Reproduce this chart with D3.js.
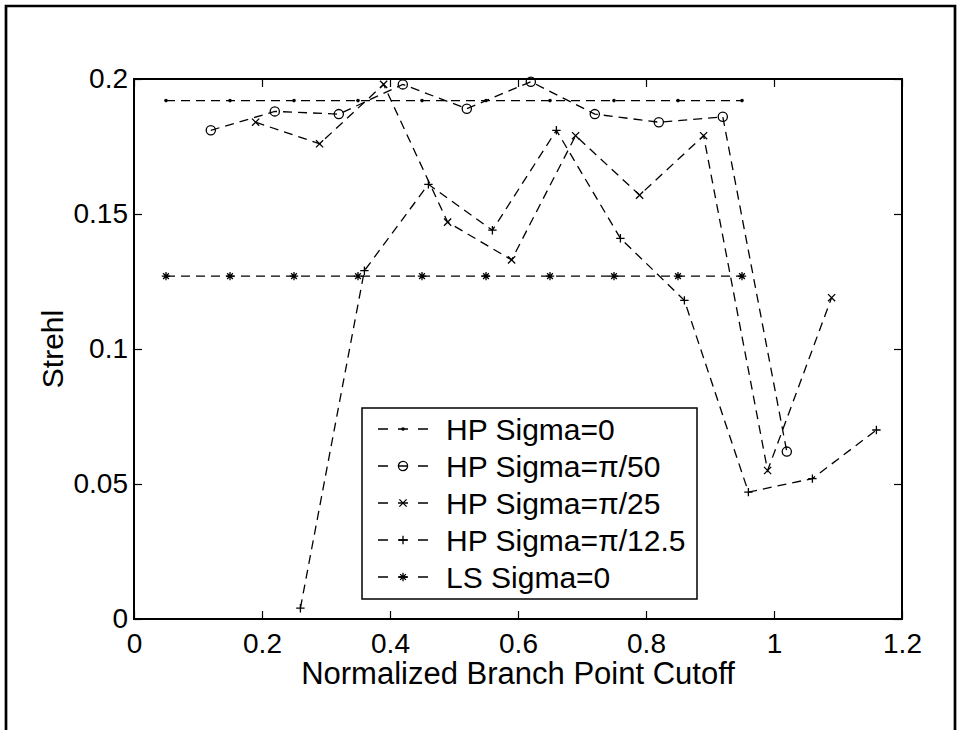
<!DOCTYPE html>
<html>
<head>
<meta charset="utf-8">
<script src="https://cdn.jsdelivr.net/npm/d3@7"></script>
<style>
  body { margin: 0; background: #fff; }
  svg { display: block; }
</style>
</head>
<body>
<div id="chart"></div>
<script>
// cutoff positions of each run
const x_hp0 = [0.05, 0.15, 0.25, 0.35, 0.45, 0.55, 0.65, 0.75, 0.85, 0.95];
const x_pi50 = [0.12, 0.22, 0.32, 0.42, 0.52, 0.62, 0.72, 0.82, 0.92, 1.02];
const x_pi25 = [0.19, 0.29, 0.39, 0.49, 0.59, 0.69, 0.79, 0.89, 0.99, 1.09];
const x_pi125 = [0.26, 0.36, 0.46, 0.56, 0.66, 0.76, 0.86, 0.96, 1.06, 1.16];
const x_ls0 = [0.05, 0.15, 0.25, 0.35, 0.45, 0.55, 0.65, 0.75, 0.85, 0.95];

// strehl values
const y_hp0 = [0.192, 0.192, 0.192, 0.192, 0.192, 0.192, 0.192, 0.192, 0.192, 0.192];
const y_pi50 = [0.181, 0.188, 0.187, 0.198, 0.189, 0.199, 0.187, 0.184, 0.186, 0.062];
const y_pi25 = [0.184, 0.176, 0.198, 0.147, 0.133, 0.179, 0.157, 0.179, 0.055, 0.119];
const y_pi125 = [0.004, 0.129, 0.161, 0.144, 0.181, 0.141, 0.118, 0.047, 0.052, 0.070];
const y_ls0 = [0.127, 0.127, 0.127, 0.127, 0.127, 0.127, 0.127, 0.127, 0.127, 0.127];

const series_names = ["HP Sigma=0", "HP Sigma=\u03c0/50", "HP Sigma=\u03c0/25",
                      "HP Sigma=\u03c0/12.5", "LS Sigma=0"];
const series_markers = ["dot", "circle", "x", "plus", "star"];

const x_ticks = [0, 0.2, 0.4, 0.6, 0.8, 1, 1.2];
const y_ticks = [0, 0.05, 0.1, 0.15, 0.2];

const x_label = "Normalized Branch Point Cutoff";
const y_label = "Strehl";

const series = [
    [x_hp0, y_hp0], [x_pi50, y_pi50], [x_pi25, y_pi25], [x_pi125, y_pi125], [x_ls0, y_ls0]
].map((xy, i) => ({
    name: series_names[i],
    marker: series_markers[i],
    points: xy[0].map((x, j) => ({ x: x, y: xy[1][j] }))
}));

const width = 960, height = 730;
const margin = { top: 79, right: 58, bottom: 111, left: 134 };
const font = "'Liberation Sans', Arial, Helvetica, sans-serif";

let svg = d3.select("#chart").append("svg")
    .attr("width", width)
    .attr("height", height);

// outer figure frame (open at the bottom)
svg.append("path")
    .attr("d", `M6,${height} V6 H955 V${height}`)
    .attr("fill", "none")
    .attr("stroke", "#000")
    .attr("stroke-width", 2.7);

let x = d3.scaleLinear().domain([0, 1.2]).range([margin.left, width - margin.right]);
let y = d3.scaleLinear().domain([0, 0.2]).range([height - margin.bottom, margin.top]);

let plot = svg.append("g");

// axes with inward ticks on all four sides
let tick_len = 8;
plot.append("g")
    .attr("transform", `translate(0,${y(0)})`)
    .call(d3.axisBottom(x).tickValues(x_ticks).tickSizeInner(-tick_len).tickSizeOuter(0)
        .tickPadding(14).tickFormat(d3.format("")));
plot.append("g")
    .attr("transform", `translate(0,${y(0.2)})`)
    .call(d3.axisTop(x).tickValues(x_ticks).tickSizeInner(-tick_len).tickSizeOuter(0)
        .tickFormat(""));
plot.append("g")
    .attr("transform", `translate(${x(0)},0)`)
    .call(d3.axisLeft(y).tickValues(y_ticks).tickSizeInner(-tick_len).tickSizeOuter(0)
        .tickPadding(6).tickFormat(d3.format("")));
plot.append("g")
    .attr("transform", `translate(${x(1.2)},0)`)
    .call(d3.axisRight(y).tickValues(y_ticks).tickSizeInner(-tick_len).tickSizeOuter(0)
        .tickFormat(""));

plot.selectAll(".domain").remove();
plot.selectAll(".tick line").attr("stroke", "#000").attr("stroke-width", 1.2);
plot.selectAll(".tick text")
    .attr("fill", "#000")
    .style("font-family", font)
    .style("font-size", "28px");

// plot box
plot.append("rect")
    .attr("x", x(0))
    .attr("y", y(0.2))
    .attr("width", x(1.2) - x(0))
    .attr("height", y(0) - y(0.2))
    .attr("fill", "none")
    .attr("stroke", "#000")
    .attr("stroke-width", 2);

// axis labels
svg.append("text")
    .attr("x", (x(0) + x(1.2)) / 2)
    .attr("y", 684)
    .attr("text-anchor", "middle")
    .style("font-family", font)
    .style("font-size", "31px")
    .text(x_label);

svg.append("text")
    .attr("transform", `translate(63,${(y(0) + y(0.2)) / 2}) rotate(-90)`)
    .attr("text-anchor", "middle")
    .style("font-family", font)
    .style("font-size", "30px")
    .text(y_label);

// marker drawing
function draw_marker(g, type, cx, cy) {
    let s = 3.6;
    let stroke = { stroke: "#000", "stroke-width": 1.3, fill: "none" };
    let add_path = (d) => {
        let p = g.append("path").attr("d", d);
        Object.entries(stroke).forEach(([k, v]) => p.attr(k, v));
    };
    if (type === "dot") {
        g.append("circle").attr("cx", cx).attr("cy", cy).attr("r", 1.8).attr("fill", "#000");
    } else if (type === "circle") {
        let c = g.append("circle").attr("cx", cx).attr("cy", cy).attr("r", 4.6);
        Object.entries(stroke).forEach(([k, v]) => c.attr(k, v));
    } else if (type === "x") {
        add_path(`M${cx - s},${cy - s}L${cx + s},${cy + s}M${cx - s},${cy + s}L${cx + s},${cy - s}`);
    } else if (type === "plus") {
        add_path(`M${cx - s - 0.6},${cy}H${cx + s + 0.6}M${cx},${cy - s - 0.6}V${cy + s + 0.6}`);
    } else if (type === "star") {
        add_path(`M${cx - s - 0.6},${cy}H${cx + s + 0.6}M${cx},${cy - s - 0.6}V${cy + s + 0.6}` +
                 `M${cx - s * 0.8},${cy - s * 0.8}L${cx + s * 0.8},${cy + s * 0.8}` +
                 `M${cx - s * 0.8},${cy + s * 0.8}L${cx + s * 0.8},${cy - s * 0.8}`);
    }
}

let line = d3.line().x(d => x(d.x)).y(d => y(d.y));

let series_g = plot.selectAll(".series")
    .data(series)
    .enter()
    .append("g")
    .attr("class", "series");

series_g.append("path")
    .attr("d", d => line(d.points))
    .attr("fill", "none")
    .attr("stroke", "#000")
    .attr("stroke-width", 1.3)
    .attr("stroke-dasharray", "9,6");

series_g.each(function (d) {
    let g = d3.select(this);
    d.points.forEach(p => draw_marker(g, d.marker, x(p.x), y(p.y)));
});

// legend
let leg_x = 362, leg_y = 408, leg_w = 335, leg_h = 191, row_h = 37;
let legend = svg.append("g");
legend.append("rect")
    .attr("x", leg_x)
    .attr("y", leg_y)
    .attr("width", leg_w)
    .attr("height", leg_h)
    .attr("fill", "#fff")
    .attr("stroke", "#000")
    .attr("stroke-width", 1.5);

let rows = legend.selectAll(".row")
    .data(series)
    .enter()
    .append("g")
    .attr("class", "row")
    .attr("transform", (d, i) => `translate(0,${leg_y + 21 + i * row_h})`);

rows.append("line")
    .attr("x1", 378)
    .attr("x2", 428)
    .attr("stroke", "#000")
    .attr("stroke-width", 1.3)
    .attr("stroke-dasharray", "10,10");

rows.each(function (d) {
    draw_marker(d3.select(this), d.marker, 403, 0);
});

rows.append("text")
    .attr("x", 446)
    .attr("y", 11)
    .style("font-family", font)
    .style("font-size", "30px")
    .text(d => d.name);
</script>
</body>
</html>
